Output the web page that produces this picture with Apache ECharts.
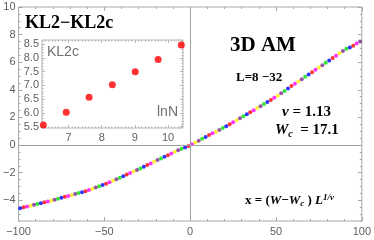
<!DOCTYPE html>
<html><head><meta charset="utf-8">
<script src="https://cdn.jsdelivr.net/npm/echarts@6/dist/echarts.min.js"></script>
<style>html,body{margin:0;padding:0;background:#fff}#c{width:374px;height:240px}</style>
</head><body><div id="c"></div>
<script>
// ---- main chart data (x = (W-Wc) L^{1/nu}, scaled KL2-KL2c) ----
const seriesNames = ['L=8','L=12','L=16','L=20','L=24','L=32'];
const seriesColors = ['#ff0000','#ffee00','#00e000','#0000ff','#ff00ff','#7a2a8a'];
const sL8x  = [-97,-85,-73,-61,-49,-37,-25,-13,-1,11,23,35,47,59,71,83,95];
const sL8y  = [-4.51,-4.15,-3.75,-3.34,-2.80,-2.14,-1.45,-0.73,-0.06,0.72,1.51,2.38,3.27,4.27,5.28,6.30,7.20];
const sL12x = [-93,-81,-69,-57,-45,-33,-21,-9,3,15,27,39,51,63,75,87];
const sL12y = [-4.39,-4.03,-3.62,-3.17,-2.58,-1.92,-1.21,-0.49,0.19,0.97,1.80,2.68,3.58,4.60,5.62,6.65];
const sL16x = [-89,-77,-65,-53,-41,-29,-17,-5,7,19,31,43,55,67,79,91];
const sL16y = [-4.27,-3.89,-3.47,-2.99,-2.36,-1.69,-0.97,-0.27,0.45,1.23,2.09,2.97,3.92,4.94,5.96,6.98];
const sL20x = [-99,-87,-75,-63,-51,-39,-27,-15,-3,9,21,33,45,57,69,81,93];
const sL20y = [-4.57,-4.21,-3.82,-3.41,-2.90,-2.25,-1.57,-0.85,-0.17,0.58,1.37,2.23,3.12,4.10,5.11,6.13,7.06];
const sL24x = [-95,-83,-71,-59,-47,-35,-23,-11,1,13,25,37,49,61,73,85,97];
const sL24y = [-4.45,-4.09,-3.69,-3.26,-2.69,-2.03,-1.33,-0.61,0.06,0.85,1.66,2.53,3.42,4.44,5.45,6.47,7.35];
const sL32x = [-91,-79,-67,-55,-43,-31,-19,-7,5,17,29,41,53,65,77,89,99];
const sL32y = [-4.33,-3.96,-3.55,-3.08,-2.47,-1.81,-1.09,-0.38,0.32,1.10,1.95,2.82,3.75,4.77,5.79,6.81,7.50];
const mainXs = [sL8x,sL12x,sL16x,sL20x,sL24x,sL32x];
const mainYs = [sL8y,sL12y,sL16y,sL20y,sL24y,sL32y];

// ---- inset data: KL2c vs lnN ----
const insetLnN = [6.24,6.93,7.62,8.32,9.01,9.70,10.40];
const insetKL2c = [5.56,6.02,6.57,7.02,7.50,7.94,8.47];

// ---- tick values ----
const mainXMajor = [-100,-50,0,50,100];
const mainXMinor = [-90,-80,-70,-60,-40,-30,-20,-10,10,20,30,40,60,70,80,90];
const mainYMajor = [-4,-2,0,2,4,6,8,10];
const mainYMinor = [-5.5,-5,-4.5,-3.5,-3,-2.5,-1.5,-1,-0.5,0.5,1,1.5,2.5,3,3.5,4.5,5,5.5,6.5,7,7.5,8.5,9,9.5];
const insetXMajor = [7,8,9,10];
const insetXMinor = [6.3,6.4,6.5,6.6,6.7,6.8,6.9,7.1,7.2,7.3,7.4,7.5,7.6,7.7,7.8,7.9,8.1,8.2,8.3,8.4,8.5,8.6,8.7,8.8,8.9,9.1,9.2,9.3,9.4,9.5,9.6,9.7,9.8,9.9,10.1,10.2,10.3,10.4];
const insetYMajor = [5.5,6.0,6.5,7.0,7.5,8.0,8.5];
const insetYMinor = [5.6,5.7,5.8,5.9,6.1,6.2,6.3,6.4,6.6,6.7,6.8,6.9,7.1,7.2,7.3,7.4,7.6,7.7,7.8,7.9,8.1,8.2,8.3,8.4,8.6];

const frame = '#a8a8a8';
const insetFrame = '#b4b4b4';
const labelColor = '#606060';
const lblFont = 'Liberation Sans';
const fmtMinus = v => String(v).replace('-', '\u2212');

function ax(grid, pos, vals, isLabel, len, color, min, max, fmt, margin) {
  return {
    type: 'value', gridIndex: grid, position: pos, min: min, max: max,
    axisLine: { show: false, onZero: false },
    splitLine: { show: false },
    axisTick: { show: true, inside: true, length: len, customValues: vals, lineStyle: { color: color } },
    axisLabel: isLabel ? { show: true, customValues: vals, color: labelColor, fontFamily: lblFont, fontSize: 11, margin: margin, formatter: fmt } : { show: false }
  };
}

const xAxes = [
  ax(0,'bottom',mainXMajor,true,4,frame,-100,100,fmtMinus,5),
  ax(0,'bottom',mainXMinor,false,2,frame,-100,100),
  ax(0,'top',mainXMajor,false,4,frame,-100,100),
  ax(0,'top',mainXMinor,false,2,frame,-100,100),
  ax(1,'bottom',insetXMajor,true,3,insetFrame,6.2,10.45,v=>String(v),4),
  ax(1,'bottom',insetXMinor,false,1.5,insetFrame,6.2,10.45),
  ax(1,'top',insetXMajor,false,3,insetFrame,6.2,10.45),
  ax(1,'top',insetXMinor,false,1.5,insetFrame,6.2,10.45)
];
const yAxes = [
  ax(0,'left',mainYMajor,true,4,frame,-5.5,10,fmtMinus,3),
  ax(0,'left',mainYMinor,false,2,frame,-5.5,10),
  ax(0,'right',mainYMajor,false,4,frame,-5.5,10),
  ax(0,'right',mainYMinor,false,2,frame,-5.5,10),
  ax(1,'left',insetYMajor,true,3,insetFrame,5.45,8.65,v=>v.toFixed(1),3),
  ax(1,'left',insetYMinor,false,1.5,insetFrame,5.45,8.65),
  ax(1,'right',insetYMajor,false,3,insetFrame,5.45,8.65),
  ax(1,'right',insetYMinor,false,1.5,insetFrame,5.45,8.65)
];

const series = [];
for (let i = 0; i < seriesNames.length; i++) {
  const xs = mainXs[i], ys = mainYs[i];
  series.push({
    type: 'scatter', name: seriesNames[i], xAxisIndex: 0, yAxisIndex: 0,
    symbolSize: 4, itemStyle: { color: seriesColors[i] },
    data: xs.map((x, k) => [x, ys[k]]), silent: true, z: 3
  });
}
series[0].markLine = {
  silent: true, symbol: 'none', label: { show: false },
  lineStyle: { color: '#a0a0a0', width: 1, type: 'solid' },
  data: [{ xAxis: 0 }, { yAxis: 0 }]
};
series.push({
  type: 'scatter', xAxisIndex: 4, yAxisIndex: 4, symbolSize: 7, z: 4,
  itemStyle: { color: '#ff0000' }, silent: true,
  data: insetLnN.map((x, k) => [x, insetKL2c[k]])
});

const serif = '"Liberation Serif", "DejaVu Serif", serif';
const option = {
  backgroundColor: '#fff',
  animation: false,
  grid: [
    { left: 15, top: 7, width: 348, height: 214, show: true, borderColor: frame, borderWidth: 1, backgroundColor: 'transparent' },
    { left: 42, top: 40, width: 141, height: 88, show: true, borderColor: insetFrame, borderWidth: 1, backgroundColor: '#fff' }
  ],
  xAxis: xAxes,
  yAxis: yAxes,
  series: series,
  graphic: [
    { type: 'text', left: 25, top: 14, z: 10, style: { text: 'KL2\u2212KL2c', font: 'bold 18px ' + serif, fill: '#000' } },
    { type: 'text', left: 47, top: 45, z: 10, style: { text: 'KL2c', font: '14px "Liberation Sans"', fill: '#707070' } },
    { type: 'text', left: 157, top: 105, z: 10, style: { text: 'lnN', font: '14px "Liberation Sans"', fill: '#707070' } },
    { type: 'text', left: 230, top: 35, z: 10, style: { text: '3D AM', font: 'bold 21px ' + serif, fill: '#000' } },
    { type: 'text', left: 236, top: 71, z: 10, style: { text: 'L=8 \u221232', font: 'bold 13px ' + serif, fill: '#000' } },
    { type: 'text', left: 282, top: 105, z: 10, style: {
      text: '{i|\u03bd}{b| = 1.13}',
      rich: { i: { font: 'italic bold 15px ' + serif, fill: '#000' }, b: { font: 'bold 15px ' + serif, fill: '#000' } } } },
    { type: 'text', left: 275, top: 123, z: 10, style: {
      text: '{i|W}{s|c}{b|  = 17.1}',
      rich: { i: { font: 'italic bold 15px ' + serif, fill: '#000' },
              s: { font: 'italic bold 10px ' + serif, fill: '#000', padding: [7, 0, 0, 0] },
              b: { font: 'bold 15px ' + serif, fill: '#000' } } } },
    { type: 'text', left: 245, top: 193, z: 10, style: {
      text: '{b|x = (}{i|W}{b|\u2212}{i|W}{s|c}{b| ) }{i|L}{p|1/\u03bd}',
      rich: { i: { font: 'italic bold 13px ' + serif, fill: '#000' },
              b: { font: 'bold 13px ' + serif, fill: '#000' },
              s: { font: 'italic bold 9px ' + serif, fill: '#000', padding: [6, 0, 0, 0] },
              p: { font: 'italic bold 9px ' + serif, fill: '#000', padding: [0, 0, 6, 0] } } } }
  ]
};
echarts.init(document.getElementById('c')).setOption(option);
</script></body></html>
